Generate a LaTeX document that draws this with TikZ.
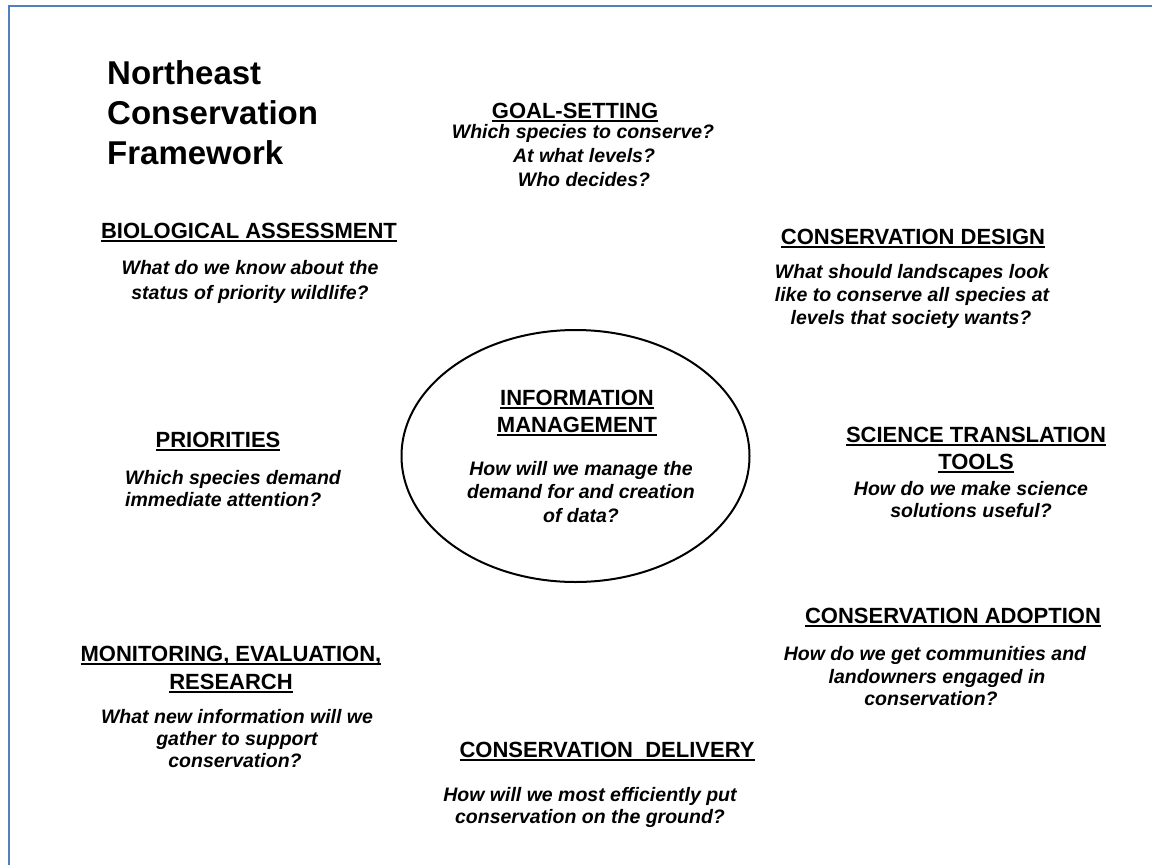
\documentclass[tikz,border=0pt]{standalone}
\usepackage{fontspec}
\setmainfont{Liberation Sans}
\usetikzlibrary{shapes.geometric}
\newcommand\hul[1]{\setbox0\hbox{#1}\rlap{\rule[-4.2pt]{\wd0}{2.2pt}}\box0}
\definecolor{frameblue}{RGB}{79,129,189}
\tikzset{
 ttl/.style={anchor=base west, inner sep=0pt, font=\fontsize{33}{33}\selectfont\bfseries},
 hd/.style={anchor=base, inner sep=0pt, font=\fontsize{22}{22}\selectfont\bfseries},
 qq/.style={anchor=base, inner sep=0pt, font=\fontsize{19.5}{19.5}\selectfont\bfseries\itshape},
 qleft/.style={qq, anchor=base west},
 frameline/.style={draw=frameblue, line width=2pt},
 hub/.style={draw, ellipse, line width=2pt, minimum width=348pt, minimum height=252pt, inner sep=0pt},
}
\begin{document}
\begin{tikzpicture}[x=1pt,y=-1pt]
\useasboundingbox (0,0) rectangle (1152,865);
% frame
\coordinate (fa) at (9,865);
\coordinate (fb) at (9,6);
\coordinate (fc) at (1152,6);
\draw[frameline] (fa) -- (fb) -- (fc);
% title
\node[ttl] (t1) at (107,84) {Northeast};
\node[ttl] (t2) at (107,124) {Conservation};
\node[ttl] (t3) at (107,164) {Framework};
% central ellipse
\node[hub] (hub) at (575.5,456) {};
% goal-setting
\node[hd] (goal) at (575,118) {\hul{GOAL-SETTING}};
\node[qq] (goalq1) at (583,138) {Which species to conserve?};
\node[qq] (goalq2) at (584,162) {At what levels?};
\node[qq] (goalq3) at (584,186) {Who decides?};
% biological assessment
\node[hd] (bio) at (249,238) {\hul{BIOLOGICAL ASSESSMENT}};
\node[qq] (bioq1) at (250,274) {What do we know about the};
\node[qq] (bioq2) at (250,299) {status of priority wildlife?};
% conservation design
\node[hd] (design) at (913,244) {\hul{CONSERVATION DESIGN}};
\node[qq] (designq1) at (912,278) {What should landscapes look};
\node[qq] (designq2) at (912,301) {like to conserve all species at};
\node[qq] (designq3) at (911,324) {levels that society wants?};
% priorities
\node[hd] (prio) at (218,447) {\hul{PRIORITIES}};
\node[qleft] (prioq1) at (125,484) {Which species demand};
\node[qleft] (prioq2) at (125,506) {immediate attention?};
% information management
\node[hd] (info1) at (577,405) {\hul{INFORMATION}};
\node[hd] (info2) at (577,432) {\hul{MANAGEMENT}};
\node[qq] (infoq1) at (581,475) {How will we manage the};
\node[qq] (infoq2) at (581,498) {demand for and creation};
\node[qq] (infoq3) at (581,522) {of data?};
% science translation tools
\node[hd] (sci1) at (976,442) {\hul{SCIENCE TRANSLATION}};
\node[hd] (sci2) at (976,469) {\hul{TOOLS}};
\node[qq] (sciq1) at (971,495) {How do we make science};
\node[qq] (sciq2) at (971,517) {solutions useful?};
% conservation adoption
\node[hd] (adopt) at (953,623) {\hul{CONSERVATION ADOPTION}};
\node[qq] (adoptq1) at (935,660) {How do we get communities and};
\node[qq] (adoptq2) at (937,683) {landowners engaged in};
\node[qq] (adoptq3) at (931,705) {conservation?};
% monitoring
\node[hd] (mon1) at (231,661) {\hul{MONITORING, EVALUATION,}};
\node[hd] (mon2) at (231,689) {\hul{RESEARCH}};
\node[qq] (monq1) at (237,723) {What new information will we};
\node[qq] (monq2) at (237,745) {gather to support};
\node[qq] (monq3) at (235,767) {conservation?};
% conservation delivery
\node[hd] (deliv) at (607,757) {\hul{CONSERVATION\ \ DELIVERY}};
\node[qq] (delivq1) at (590,801) {How will we most efficiently put};
\node[qq] (delivq2) at (590,823) {conservation on the ground?};
\end{tikzpicture}
\end{document}
